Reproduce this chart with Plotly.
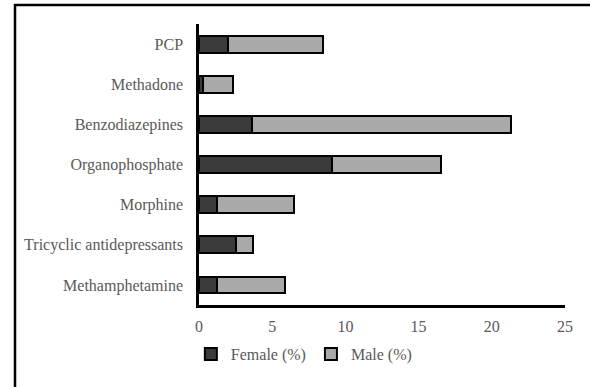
import plotly.graph_objects as go

categories = ["PCP", "Methadone", "Benzodiazepines", "Organophosphate",
              "Morphine", "Tricyclic antidepressants", "Methamphetamine"]
female = [2.0, 0.3, 3.6, 9.1, 1.2, 2.5, 1.2]
male = [6.5, 2.0, 17.7, 7.4, 5.3, 1.2, 4.7]
x_ticks = [0, 5, 10, 15, 20, 25]

W, H = 590, 387
ml, mr, mt, mb = 199, 25, 24, 82

fig = go.Figure()
fig.add_trace(go.Bar(y=categories, x=female, name="Female (%)", orientation="h",
                     marker=dict(color="#3b3b3b", line=dict(color="black", width=2))))
fig.add_trace(go.Bar(y=categories, x=male, name="Male (%)", orientation="h",
                     marker=dict(color="#aba8a8", line=dict(color="black", width=2))))

pw = W - ml - mr
ph = H - mt - mb
def px_x(p):
    return (p - ml) / pw
def px_y(p):
    return (H - mb - p) / ph

fig.add_shape(type="rect", xref="paper", yref="paper",
              x0=px_x(15), x1=px_x(600), y0=px_y(400), y1=px_y(5),
              line=dict(color="black", width=2.5), fillcolor="rgba(0,0,0,0)", layer="below")

serif = "Liberation Serif, Times New Roman, Times, serif"
fig.update_layout(
    width=W, height=H,
    margin=dict(l=ml, r=mr, t=mt, b=mb, autoexpand=False),
    barmode="stack", bargap=0.58,
    plot_bgcolor="white", paper_bgcolor="white",
    font=dict(family=serif, size=16, color="#595959"),
    showlegend=True,
    legend=dict(orientation="h", xref="container", x=0.515, xanchor="center",
                yref="container", y=0.085, yanchor="middle",
                font=dict(family=serif, size=16, color="#595959"), traceorder="normal",
                itemwidth=30, tracegroupgap=0),
    xaxis=dict(range=[0, 25], tickvals=x_ticks, showgrid=False, zeroline=False,
               showline=True, linecolor="black", linewidth=2.5, ticks="",
               ticklabelstandoff=5),
    yaxis=dict(categoryorder="array", categoryarray=categories[::-1],
               showgrid=False, zeroline=False, showline=True, linecolor="black",
               linewidth=2.5, ticks="", ticklabelstandoff=10),
)

fig.write_html("out.html", config={"displayModeBar": False},
               post_script="document.body.style.margin='0';document.body.style.overflow='hidden';")
